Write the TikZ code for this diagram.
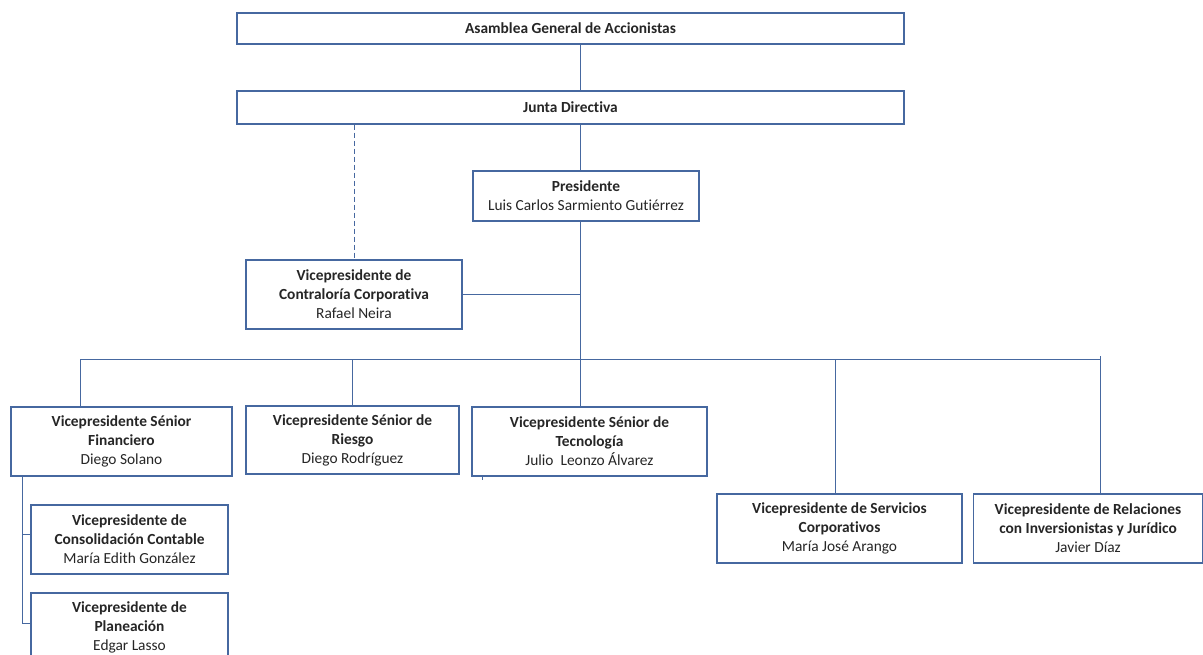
\documentclass[tikz,border=0pt]{standalone}
\usepackage{fontspec}
\setmainfont[Ligatures=NoCommon]{Carlito}
\definecolor{boxblue}{RGB}{70,104,160}
\definecolor{txt}{RGB}{38,38,38}
\begin{document}
\begin{tikzpicture}[x=1pt,y=-1pt,
  box/.style={draw=boxblue,line width=1.3pt,fill=white,rectangle,inner sep=2pt,
    align=center,text=txt,font=\fontsize{15.4}{19}\selectfont},
  wire/.style={draw=boxblue,line width=1pt},
  dwire/.style={draw=boxblue,line width=1pt,dash pattern=on 5pt off 3pt}]
\useasboundingbox (0,0) rectangle (1203,655);
\clip (0,0) rectangle (1203,655);
% spine positions
\coordinate (sp) at (580,0);
\coordinate (barL) at (80,359);
\coordinate (barR) at (1100,359);
\coordinate (barRt) at (1100,356);
\coordinate (tick) at (482,480);
% nodes
\node[box,minimum width=667pt,minimum height=31pt] (asam) at (570.5,28.5) {\textbf{Asamblea General de Accionistas}};
\node[box,minimum width=667pt,minimum height=33pt] (junta) at (570.5,107.5) {\textbf{Junta Directiva}};
\node[box,minimum width=226pt,minimum height=50pt] (pres) at (586,196) {\textbf{Presidente}\\Luis Carlos Sarmiento Gutiérrez};
\node[box,minimum width=216pt,minimum height=69pt] (contra) at (354,294.5) {\textbf{Vicepresidente de}\\\textbf{Contraloría Corporativa}\\Rafael Neira};
\node[box,minimum width=221pt,minimum height=69pt] (fin) at (121.5,441.5) {\textbf{Vicepresidente Sénior}\\\textbf{Financiero}\\Diego Solano};
\node[box,minimum width=213pt,minimum height=68pt] (riesgo) at (352.5,440) {\textbf{Vicepresidente Sénior de}\\\textbf{Riesgo}\\Diego Rodríguez};
\node[box,minimum width=235pt,minimum height=69pt] (tec) at (589.5,441.5) {\textbf{Vicepresidente Sénior de}\\\textbf{Tecnología}\\Julio\ \ Leonzo Álvarez};
\node[box,minimum width=245pt,minimum height=69pt] (serv) at (839.5,528.5) {\textbf{Vicepresidente de Servicios}\\\textbf{Corporativos}\\María José Arango};
\node[box,minimum width=229pt,minimum height=69pt] (rel) at (1088,528.5) {\textbf{Vicepresidente de Relaciones}\\\textbf{con Inversionistas y Jurídico}\\Javier Díaz};
\node[box,minimum width=197pt,minimum height=69pt] (cons) at (129.5,539.5) {\textbf{Vicepresidente de}\\\textbf{Consolidación Contable}\\María Edith González};
\node[box,minimum width=197pt,minimum height=69pt] (plan) at (129.5,627.5) {\textbf{Vicepresidente de}\\\textbf{Planeación}\\Edgar Lasso};
% connectors
\draw[wire] (asam.south -| sp) -- (junta.north -| sp);
\draw[wire] (junta.south -| sp) -- (pres.north -| sp);
\draw[dwire] (contra.north |- junta.south) -- (contra.north);
\draw[wire] (pres.south -| sp) -- (barL -| sp);
\draw[wire] (contra.east) -- (contra.east -| sp);
\draw[wire] (barL) -- (barR) -- (barRt);
\draw[wire] (barL) -- (barL |- fin.north);
\draw[wire] (barL -| riesgo.north) -- (riesgo.north);
\draw[wire] (barL -| sp) -- (tec.north -| sp);
\draw[wire] (835,359) -- (serv.north -| 835,0);
\draw[wire] (barR) -- (rel.north -| barR);
\draw[wire] (tec.south -| tick) -- (tick);
\coordinate (fx) at (22,623);
\draw[wire] (fin.south -| fx) -- (fx) -- (plan.west |- fx);
\draw[wire] (fx |- 0,534) -- (cons.west |- 0,534);
\end{tikzpicture}
\end{document}
